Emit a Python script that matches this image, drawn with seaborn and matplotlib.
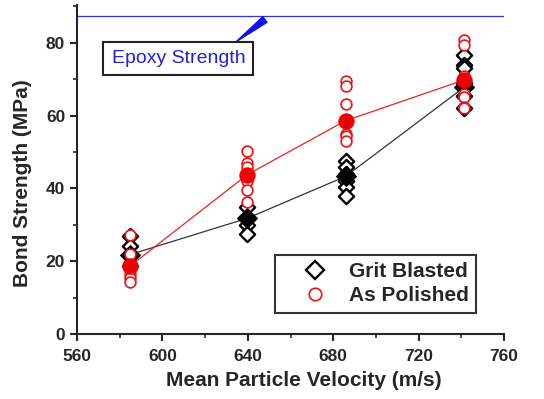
import matplotlib
matplotlib.use("Agg")
import matplotlib.pyplot as plt
from matplotlib.lines import Line2D
from matplotlib.ticker import MultipleLocator
import seaborn as sns
import pandas as pd

# ---- data ----
velocities = [584.7, 639.8, 685.8, 741.3]

grit_x = [584.7]*4 + [639.8]*4 + [685.8]*6 + [741.3]*7
grit_y = [26.8, 24.1, 21.5, 18.6,
          35.0, 32.0, 30.0, 27.5,
          47.6, 46.0, 44.0, 42.0, 40.5, 37.8,
          76.7, 74.0, 73.0, 69.0, 68.0, 65.3, 62.0]
grit_mean = [21.8, 31.8, 43.3, 67.8]

pol_x = [584.7]*6 + [639.8]*7 + [685.8]*6 + [741.3]*7
pol_y = [27.3, 22.0, 18.6, 16.5, 15.5, 14.2,
         50.2, 47.0, 46.0, 43.5, 42.0, 39.5, 36.2,
         69.4, 68.2, 63.2, 55.0, 54.3, 52.9,
         80.8, 79.5, 71.0, 66.0, 65.0, 62.5, 62.0]
pol_mean = [18.6, 43.8, 58.6, 69.8]

epoxy_strength = 87.4

series_labels = ["Grit Blasted", "As Polished"]
x_label = "Mean Particle Velocity (m/s)"
y_label = "Bond Strength (MPa)"
epoxy_label = "Epoxy Strength"

# ---- style ----
sns.set_style("ticks")
plt.rcParams["font.family"] = ["Liberation Sans", "DejaVu Sans"]
plt.rcParams["font.weight"] = "bold"

fig = plt.figure(figsize=(5.44, 3.99), dpi=100)
ax = fig.add_axes([77/544, 1-334/399, (504-77)/544, (334-5)/399])

grit_df = pd.DataFrame({"x": grit_x, "y": grit_y})
pol_df = pd.DataFrame({"x": pol_x, "y": pol_y})
gmean_df = pd.DataFrame({"x": velocities, "y": grit_mean})
pmean_df = pd.DataFrame({"x": velocities, "y": pol_mean})

# epoxy line
ax.axhline(epoxy_strength, color="#3333ee", lw=0.9, zorder=1)

# Grit blasted
sns.scatterplot(data=grit_df, x="x", y="y", ax=ax, marker="D", s=60,
                facecolor="white", edgecolor="black", linewidth=1.7, zorder=3)
sns.lineplot(data=gmean_df, x="x", y="y", ax=ax, color="#333333", lw=0.9,
             marker="D", markersize=10, markerfacecolor="black",
             markeredgecolor="black", zorder=4)

# As polished
sns.scatterplot(data=pol_df, x="x", y="y", ax=ax, marker="o", s=60,
                facecolor="white", edgecolor="#ee1111", linewidth=1.2, zorder=5)
sns.lineplot(data=pmean_df, x="x", y="y", ax=ax, color="#ee2222", lw=0.9,
             marker="o", markersize=11, markerfacecolor="#ee0000",
             markeredgecolor="#ee0000", zorder=6)

ax.set_xlim(560, 760)
ax.set_ylim(0, 90.4)
ax.xaxis.set_major_locator(MultipleLocator(40))
ax.xaxis.set_minor_locator(MultipleLocator(20))
ax.yaxis.set_major_locator(MultipleLocator(20))
ax.yaxis.set_minor_locator(MultipleLocator(10))
ax.tick_params(which="major", direction="out", length=5, width=1.5, labelsize=12.5)
ax.tick_params(axis="x", which="major", pad=6)
ax.tick_params(which="minor", direction="out", length=3, width=1.2)
for lab in ax.get_xticklabels() + ax.get_yticklabels():
    lab.set_fontweight("bold")
for s in ["top", "right"]:
    ax.spines[s].set_visible(False)
for s in ["left", "bottom"]:
    ax.spines[s].set_linewidth(1.5)

ax.set_xlabel(x_label, fontsize=15, fontweight="bold")
ax.set_ylabel(y_label, fontsize=15, fontweight="bold")
ax.xaxis.set_label_coords(0.532, -0.113)
ax.yaxis.set_label_coords(-0.106, 0.46)

# epoxy annotation box
ax.text(576.2, 75.7, epoxy_label, fontsize=14, color="#2222dd",
        fontweight="normal", ha="left", va="center",
        bbox=dict(boxstyle="square,pad=0.42", fc="white", ec="#222222", lw=1.5),
        zorder=7)
# wedge pointer from box to epoxy line
ax.annotate("", xy=(634.5, 80.3), xytext=(648.0, 86.4),
            arrowprops=dict(arrowstyle="wedge,tail_width=0.5,shrink_factor=0.5",
                            color="#1111ee", shrinkA=0, shrinkB=0),
            zorder=6)

handles = [Line2D([], [], marker="D", ls="none", mfc="white", mec="black",
                  mew=1.7, markersize=9),
           Line2D([], [], marker="o", ls="none", mfc="white", mec="#ee1111",
                  mew=1.2, markersize=9)]
leg = ax.legend(handles, series_labels, loc="lower right",
                bbox_to_anchor=(0.935, 0.065), prop={"weight": "bold", "size": 15},
                frameon=True, fancybox=False, edgecolor="black",
                borderpad=0.35, handlelength=3.1, handletextpad=0.1,
                labelspacing=0.25, borderaxespad=0)
leg.get_frame().set_linewidth(1.5)

fig.savefig("out.png", dpi=100)
